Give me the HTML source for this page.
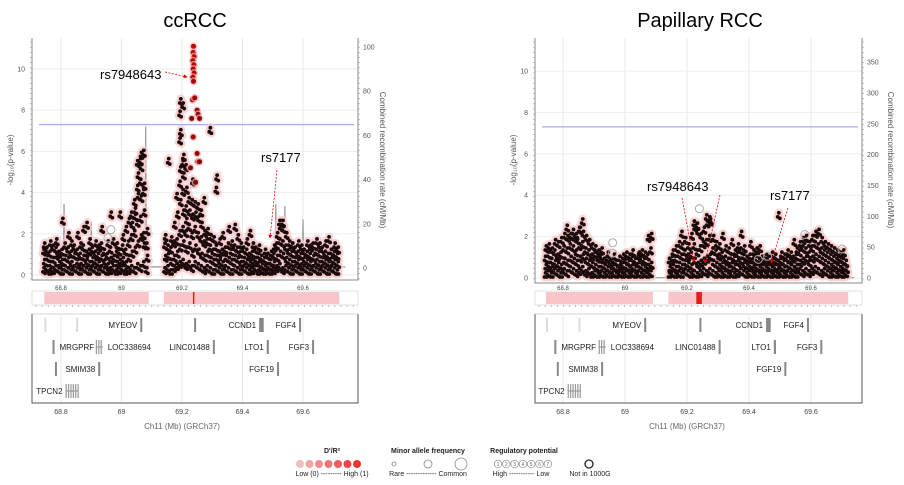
<!DOCTYPE html>
<html><head><meta charset="utf-8">
<style>
html,body{margin:0;padding:0;background:#fff;}
svg{display:block;font-family:"Liberation Sans",Arial,sans-serif;}
</style></head>
<body>
<svg id="chart" width="904" height="485" viewBox="0 0 904 485" xmlns="http://www.w3.org/2000/svg">
</svg>
<script>
// ---------- DATA ----------
const xTicks = [68.8, 69, 69.2, 69.4, 69.6];
const xTickLabels = ["68.8", "69", "69.2", "69.4", "69.6"];
const yTicks = [0, 2, 4, 6, 8, 10];
const ccRecTicks = [0, 20, 40, 60, 80, 100];
const prRecTicks = [0, 50, 100, 150, 200, 250, 300, 350];
const gwThreshold = 7.3;

const ccBinPos = [68.745,68.755,68.765,68.775,68.785,68.795,68.805,68.815,68.825,68.835,68.845,68.855,68.865,68.875,68.885,68.895,68.905,68.915,68.925,68.935,68.945,68.955,68.965,68.975,68.985,68.995,69.005,69.015,69.025,69.035,69.045,69.055,69.065,69.075,69.085,
69.145,69.155,69.165,69.175,69.185,69.195,69.205,69.215,69.225,69.235,69.245,69.255,69.265,69.275,69.285,69.295,69.305,69.315,69.325,69.335,69.345,69.355,69.365,69.375,69.385,69.395,69.405,69.415,69.425,69.435,69.445,69.455,69.465,69.475,69.485,69.495,69.505,69.515,69.525,69.535,69.545,69.555,69.565,69.575,69.585,69.595,69.605,69.615,69.625,69.635,69.645,69.655,69.665,69.675,69.685,69.695,69.705,69.715];
const ccBinVals = [[0.2,0.6,1.1,1.4],[0.3,0.8,1.2],[0.1,0.5,1.0,1.5],[0.2,0.7,1.3],[0.3,0.9,1.2,1.6],[0.2,0.5,1.0],[0.1,0.6,1.1,2.6],[0.3,0.8,1.4],[0.2,0.7,1.2,1.9],[0.1,0.5,1.0,1.5],[0.3,0.9,1.3],[0.2,0.6,1.1,1.9],[0.1,0.4,0.9,1.4],[0.3,0.8,1.3,2.2],[0.2,0.6,1.0,2.4],[0.1,0.5,1.1,1.6],[0.3,0.7,1.2],[0.2,0.6,1.0,1.5],[0.1,0.5,0.9,1.3],[0.3,0.8,1.4,2.2],[0.2,0.6,1.1],[0.1,0.4,0.9,1.5],[0.2,0.7,1.2,2.9],[0.3,0.8,1.6],[0.1,0.5,1.0,1.4],[0.2,0.6,1.1,2.9],[0.3,0.7,1.3,1.8],[0.1,0.5,1.1,2.2],[0.2,0.8,1.5,2.6],[0.3,1.0,1.8,2.4,2.9],[0.2,1.2,2.0,2.8,3.5,3.1],[0.4,1.5,2.5,3.8,4.2,4.8,5.4],[0.3,1.8,2.7,3.7,4.5,5.2,5.5,5.8],[0.5,1.4,1.9,3.0,4.0,4.3,5.9],[0.2,0.8,1.4,2.1],
[0.2,0.8,1.4,1.8],[0.3,0.9,1.3,5.5],[0.1,0.6,1.2,1.7],[0.3,0.8,1.5,2.4],[0.4,1.0,1.6,2.9,3.8],[0.5,1.3,2.0,3.5,4.4,5.1,6.5,6.9,7.8,8.4],[0.6,1.5,2.2,3.0,4.0,4.8,5.4,5.7,8.2],[0.4,1.2,2.0,2.6,3.2,4.1,5.2],[0.5,1.4,2.3,3.0,3.6],[0.3,1.0,1.9,2.8,3.5,4.5],[0.5,1.3,2.2,2.9,3.4],[0.4,1.1,1.9,2.7,3.3],[0.3,0.9,1.7,2.4,3.0],[0.2,0.8,1.5,2.0,3.6],[0.3,1.0,1.6,2.1],[0.2,0.7,1.3,1.8,7.0],[0.1,0.6,1.1,1.7],[0.3,0.8,1.3,4.7,4.1],[0.2,0.6,1.0,1.6],[0.1,0.5,1.1,1.9],[0.3,0.8,1.2],[0.2,0.7,1.4,2.2],[0.1,0.6,1.1,1.5],[0.3,0.8,1.3,2.3],[0.2,0.7,1.2,1.8],[0.1,0.5,1.0,1.4],[0.3,0.7,1.2],[0.2,0.6,1.1,1.6],[0.1,0.5,0.9,2.0],[0.2,0.6,1.0,1.4],[0.3,0.7,1.2],[0.1,0.5,0.9,1.3],[0.2,0.4,0.8],[0.1,0.3,0.7,1.1],[0.2,0.4,0.9],[0.1,0.3,0.6,1.0],[0.2,0.5,0.9,1.3],[0.3,0.8,1.4,1.9],[0.4,1.0,1.6,2.3,2.5],[0.2,0.9,1.5,2.2,2.5],[0.3,0.7,1.3,1.9],[0.2,0.6,1.1,1.5],[0.1,0.5,1.0,1.4],[0.3,0.7,1.2],[0.2,0.6,1.0,1.5],[0.1,0.4,0.9,1.3],[0.3,0.7,1.1],[0.2,0.6,1.0,1.5],[0.1,0.5,0.9,1.3],[0.3,0.8,1.4],[0.2,0.6,1.1,1.6],[0.1,0.5,1.0,1.4],[0.3,0.7,1.2],[0.2,0.6,1.0,1.5],[0.1,0.5,0.9,1.7],[0.3,0.7,1.1],[0.2,0.6,1.0,1.4],[0.1,0.5,0.9,1.2]];
const ccLeadPos = [69.238,69.237,69.240,69.236,69.239,69.237,69.240,69.236,69.238,69.235,69.242,69.250,69.253,69.258,69.232,69.237,69.250,69.252,69.258,69.228,69.245];
const ccLeadP   = [11.1,10.8,10.6,10.4,10.2,10.0,9.8,9.6,9.4,8.5,8.6,8.0,7.8,7.6,7.6,6.7,5.9,5.5,5.5,5.2,4.5];
const ccLeadLD  = [1,0.95,0.9,0.9,0.9,0.85,0.85,0.8,0.8,0.75,0.75,0.6,0.6,0.55,0.5,0.7,0.6,0.6,0.5,0.4,0.4];
const ccOpenPos = [68.955, 68.965];
const ccOpenP = [1.8, 2.2];
const ccRecPos = [68.81, 68.90, 69.08, 69.19, 69.51, 69.54, 69.60];
const ccRecRate = [29, 21, 64, 32, 29, 28, 22];

const prBinPos = ccBinPos;
const prBinVals = [[0.1,0.5,0.9,1.4],[0.2,0.6,1.1,1.5],[0.1,0.4,0.8,1.3],[0.3,0.7,1.2,1.7],[0.2,0.6,1.0,1.6],[0.1,0.5,1.1,1.8],[0.3,0.8,1.4,2.0],[0.2,0.7,1.3,1.9,2.4],[0.4,0.9,1.5,2.0],[0.3,0.8,1.4,1.9,2.2],[0.2,0.7,1.2,1.8,2.0],[0.3,0.9,1.5,2.3,2.3],[0.4,1.0,1.6,2.1,2.7],[0.2,0.8,1.3,1.9],[0.3,0.7,1.2,1.7],[0.1,0.6,1.0,1.5],[0.2,0.5,1.1,1.4],[0.1,0.4,0.9,1.2],[0.2,0.6,1.0,1.3],[0.1,0.5,0.8],[0.2,0.4,0.9,1.1],[0.1,0.3,0.7],[0.2,0.5,0.8,1.0],[0.1,0.4,0.7],[0.2,0.5,0.9],[0.1,0.3,0.6,1.0],[0.2,0.5,0.8,1.1],[0.1,0.4,0.7,1.0],[0.2,0.5,0.9,1.2],[0.1,0.4,0.8],[0.2,0.6,1.0,1.1],[0.1,0.5,0.9,1.2],[0.2,0.4,0.8,1.1],[0.1,0.5,1.0,1.9],[0.2,0.6,1.3,2.0],
[0.1,0.4,0.8],[0.2,0.5,0.9,1.2],[0.1,0.4,0.9,1.4],[0.2,0.6,1.1,1.6],[0.1,0.5,1.0,1.5,2.1],[0.3,0.7,1.2,1.8],[0.2,0.6,1.0,1.5],[0.1,0.5,1.1,2.0],[0.2,0.8,1.5,2.4,2.6],[0.1,0.6,1.2,2.2,2.5],[0.2,0.7,1.4,2.0],[0.3,0.8,1.6,2.3],[0.2,0.9,1.7,2.6,2.9],[0.3,1.0,1.9,2.7,2.8],[0.2,0.7,1.3,1.9],[0.1,0.6,1.2,1.6],[0.2,0.5,1.0,1.5],[0.1,0.6,1.1,2.0],[0.2,0.5,0.9,1.4],[0.1,0.4,0.8,1.3],[0.2,0.6,1.0,1.7],[0.1,0.5,0.9,1.2],[0.2,0.7,1.1,1.5],[0.3,0.8,1.3,2.1],[0.2,0.6,1.0,1.4],[0.1,0.5,0.9],[0.2,0.6,1.0,1.6],[0.1,0.4,0.8,1.2],[0.2,0.5,0.9,1.3],[0.1,0.4,0.8,1.4],[0.2,0.5,0.9],[0.1,0.4,0.8,1.0],[0.2,0.5,0.9],[0.1,0.4,0.7,1.1],[0.2,0.5,0.8,1.0],[0.1,0.3,0.7,3.0],[0.2,0.5,0.8,1.1],[0.1,0.4,0.7,1.0],[0.2,0.6,0.9,1.2],[0.1,0.5,0.8,1.1],[0.2,0.4,0.9,1.7],[0.1,0.5,1.0,1.3],[0.3,0.7,1.2,1.6],[0.2,0.8,1.4,1.8],[0.3,0.9,1.3,1.9],[0.2,0.7,1.1,1.6],[0.3,0.9,1.4,1.9],[0.4,1.0,1.6,2.1],[0.3,0.9,1.5,2.2],[0.2,0.8,1.3,1.8],[0.3,0.7,1.2,1.6],[0.2,0.6,1.1,1.5],[0.1,0.5,1.0,1.4],[0.2,0.6,0.9,1.3],[0.1,0.5,0.8,1.2],[0.2,0.4,0.9,1.1],[0.1,0.5,0.8,1.2],[0.2,0.4,0.7]];
const prOpenPos = [68.96, 68.96, 69.24, 69.58, 69.70, 69.43, 69.46];
const prOpenP = [1.7, 1.2, 3.35, 2.1, 1.4, 0.9, 1.05];
const prRecPos = [69.08, 69.19, 69.51];
const prRecRate = [6, 8, 7];

const geneNames = ["", "", "MYEOV", "", "CCND1", "FGF4", "MRGPRF", "LOC338694", "LINC01488", "LTO1", "FGF3", "", "SMIM38", "FGF19", "TPCN2"];
const geneStart = [68.745, 68.850, 69.062, 69.240, 69.455, 69.587, 68.772, 68.915, 69.302, 69.480, 69.630, 68.780, 68.923, 69.514, 68.815];
const geneEnd   = [68.747, 68.852, 69.066, 69.244, 69.470, 69.591, 68.778, 68.938, 69.307, 69.487, 69.635, 68.784, 68.928, 69.519, 68.857];
const geneRow   = [0,0,0,0,0,0,1,1,1,1,1,2,2,2,3];
const geneLabelSide = ["", "", "L", "", "L", "L", "R", "R", "L", "L", "L", "", "L", "L", "L"];

const ldLegendValues = [0.15, 0.3, 0.45, 0.6, 0.75, 0.9, 1.0];
const regLegendValues = ["1","2","3","4","5","6","7"];

// ---------- DRAW ----------
const NS = "http://www.w3.org/2000/svg";
const svg = document.getElementById("chart");
function mk(tag, attrs, parent, text) {
  const e = document.createElementNS(NS, tag);
  for (const k in attrs) e.setAttribute(k, attrs[k]);
  if (text !== undefined) e.textContent = text;
  (parent || svg).appendChild(e);
  return e;
}
function ldColor(ld) {
  const r = Math.round(70 + 130 * ld), g = Math.round(20 * (1 - ld)), b = Math.round(20 * (1 - ld));
  return "rgb(" + r + "," + g + "," + b + ")";
}

const panels = [
  {key: "cc", title: "ccRCC", titleX: 195, left: 32, right: 358, top: 38, y0: 275, ypu: 20.6, x88: 61, ppm: 302.5, rec0: 268, ppr: 2.21, recTicks: ccRecTicks,
   binPos: ccBinPos, binVals: ccBinVals, leadPos: ccLeadPos, leadP: ccLeadP, leadLD: ccLeadLD, openPos: ccOpenPos, openP: ccOpenP, recPos: ccRecPos, recRate: ccRecRate, recLabelX: 380, redBand: [69.236, 69.241]},
  {key: "pr", title: "Papillary RCC", titleX: 700, left: 535, right: 862, top: 38, y0: 278, ypu: 20.7, x88: 563, ppm: 310, rec0: 278, ppr: 0.617, recTicks: prRecTicks,
   binPos: prBinPos, binVals: prBinVals, leadPos: [], leadP: [], leadLD: [], openPos: prOpenPos, openP: prOpenP, recPos: prRecPos, recRate: prRecRate, recLabelX: 888, redBand: [69.230, 69.248]}
];

panels.forEach(function (P) {
  const g = mk("g", {});
  
  
  const xs = v => P.x88 + (v - 68.8) * P.ppm;
  const ys = v => P.y0 - v * P.ypu;
  const yr = v => P.rec0 - v * P.ppr;
  const bottom = P.y0 + 5;

  const t = mk("text", {x: P.titleX, y: 27, "text-anchor": "middle", "font-size": 20, fill: "#000"}, g, P.title);
  
  

  xTicks.forEach(v => mk("line", {x1: xs(v), x2: xs(v), y1: P.top, y2: bottom, stroke: "#e8e8e8", "stroke-width": 1}, g));
  yTicks.forEach(v => mk("line", {x1: P.left, x2: P.right, y1: ys(v), y2: ys(v), stroke: "#eeeeee", "stroke-width": 1}, g));

  const ax = mk("path", {d: "M" + P.left + "," + P.top + "V" + bottom + "H" + P.right + "V" + P.top, fill: "none", stroke: "#888", "stroke-width": 1}, g);
  
  
  for (let v = P.top + 4; v < bottom; v += 5.15) {
    mk("line", {x1: P.left - 2, x2: P.left, y1: v, y2: v, stroke: "#999", "stroke-width": 0.6}, g);
    mk("line", {x1: P.right, x2: P.right + 2, y1: v, y2: v, stroke: "#999", "stroke-width": 0.6}, g);
  }
  yTicks.forEach(v => {
    const tl = mk("text", {x: P.left - 7, y: ys(v) + 2.5, "text-anchor": "end", "font-size": 7, fill: "#555"}, g, String(v));
    
    
  });
  P.recTicks.forEach(v => {
    const tl = mk("text", {x: P.right + 5, y: yr(v) + 2.5, "font-size": 7, fill: "#555"}, g, String(v));
    
    
  });
  xTicks.forEach((v, i) => {
    const tl = mk("text", {x: xs(v), y: 290, "text-anchor": "middle", "font-size": 6, fill: "#444"}, g, xTickLabels[i]);
    
    
  });
  const yl = mk("text", {transform: "translate(" + (P.left - 19) + ",160) rotate(-90)", "text-anchor": "middle", "font-size": 8, fill: "#555"}, g, "-log\u2081\u2080(p-value)");
  
  
  const rl = mk("text", {transform: "translate(" + P.recLabelX + ",160) rotate(90)", "text-anchor": "middle", "font-size": 8, fill: "#555"}, g, "Combined recombination rate (cM/Mb)");
  
  

  const th = mk("line", {x1: P.left + 7, x2: P.right - 4, y1: ys(gwThreshold), y2: ys(gwThreshold), stroke: "#aab0ee", "stroke-width": 1.2}, g);
  
  

  let d = "M" + xs(68.74) + "," + yr(0.5);
  P.recPos.forEach((p, i) => {
    d += " L" + xs(p - 0.002) + "," + yr(0.5) + " L" + xs(p) + "," + yr(P.recRate[i]) + " L" + xs(p + 0.002) + "," + yr(0.5);
  });
  d += " L" + xs(69.74) + "," + yr(0.5);
  const rec = mk("path", {d: d, fill: "none", stroke: "#999", "stroke-width": 1.2}, g);
  
  

  const pts = mk("g", {}, g);
  
  
  const offs = [[-0.0035, -0.05], [0.0, 0.15], [0.0035, -0.12]];
  P.binPos.forEach((bp, i) => {
    P.binVals[i].forEach((v, j) => {
      offs.forEach(o => {
        const vv = Math.max(0.05, v + o[1]);
        mk("circle", {cx: xs(bp + o[0] + (j % 2 ? 0.0012 : -0.0012)), cy: ys(vv), r: 4.4, fill: "#f7caca", opacity: 0.75}, pts);
      });
    });
  });
  P.binPos.forEach((bp, i) => {
    P.binVals[i].forEach((v, j) => {
      offs.forEach(o => {
        const vv = Math.max(0.05, v + o[1]);
        const c = mk("circle", {cx: xs(bp + o[0] + (j % 2 ? 0.0012 : -0.0012)), cy: ys(vv), r: 1.9, fill: "#1a0a0a"}, pts);
        
        
      });
    });
  });
  P.leadPos.forEach((p, i) => {
    mk("circle", {cx: xs(p), cy: ys(P.leadP[i]), r: 4, fill: "#f3b0b0", opacity: 0.7}, pts);
    const c = mk("circle", {cx: xs(p), cy: ys(P.leadP[i]), r: 2.5, fill: ldColor(P.leadLD[i])}, pts);
    
    
  });
  P.openPos.forEach((p, i) => {
    const c = mk("circle", {cx: xs(p), cy: ys(P.openP[i]), r: 4, fill: "none", stroke: "#aaa", "stroke-width": 1}, pts);
    
    
  });

  const sy = 292, sh = 12;
  mk("rect", {x: P.left, y: sy - 1, width: P.right - P.left, height: sh + 2, fill: "#fff", stroke: "#ccc", "stroke-width": 0.6}, g);
  const strip = mk("g", {}, g);
  
  
  mk("rect", {x: xs(68.745), y: sy, width: xs(69.09) - xs(68.745), height: sh, fill: "#f8c6c6"}, strip);
  mk("rect", {x: xs(69.14), y: sy, width: xs(69.72) - xs(69.14), height: sh, fill: "#f8c6c6"}, strip);
  mk("rect", {x: xs(P.redBand[0]), y: sy, width: xs(P.redBand[1]) - xs(P.redBand[0]), height: sh, fill: "#e02020"}, strip);
  for (let v = P.left + 4; v < P.right; v += 6.1) mk("line", {x1: v, x2: v, y1: sy + sh + 1, y2: sy + sh + 3, stroke: "#999", "stroke-width": 0.6}, g);

  const gt = 314, gb = 403;
  const gp = mk("g", {}, g);
  
  
  xTicks.forEach(v => mk("line", {x1: xs(v), x2: xs(v), y1: gt, y2: gb, stroke: "#e8e8e8"}, gp));
  mk("path", {d: "M" + P.left + "," + gt + "V" + gb + "H" + P.right + "V" + gt, fill: "none", stroke: "#555", "stroke-width": 1}, gp);
  mk("line", {x1: P.left, x2: P.right, y1: gt, y2: gt, stroke: "#aaa", "stroke-width": 0.6}, gp);
  const rowY = [325, 347, 369, 391];
  geneNames.forEach((n, i) => {
    const y = rowY[geneRow[i]];
    const x1 = xs(geneStart[i]), x2 = Math.max(xs(geneEnd[i]), x1 + 2);
    const light = (n === "" && geneRow[i] === 0 && i < 2);
    const wide = (x2 - x1) > 6;
    if (wide) mk("line", {x1: x1, x2: x2, y1: y, y2: y, stroke: "#666", "stroke-width": 0.8}, gp);
    const ge = mk("rect", {x: x1, y: y - 7, width: wide ? 0 : x2 - x1, height: 14, fill: light ? "#ddd" : "#888"}, gp);
    
    
    if (wide) {
      for (let xx = x1; xx <= x2; xx += 2.4) mk("rect", {x: xx, y: y - 7, width: 1.2, height: 14, fill: "#999"}, gp);
    }
    if (n) {
      const side = geneLabelSide[i];
      const lt = mk("text", {x: side === "L" ? x1 - 3 : x2 + 5, y: y + 3, "text-anchor": side === "L" ? "end" : "start", "font-size": 8, fill: "#222"}, gp, n);
      
      
    }
  });
  xTicks.forEach((v, i) => {
    const tl = mk("text", {x: xs(v), y: 414, "text-anchor": "middle", "font-size": 7, fill: "#444"}, g, xTickLabels[i]);
    
    
  });
  const xt = mk("text", {x: xs(69.2), y: 429, "text-anchor": "middle", "font-size": 8, fill: "#666"}, g, "Ch11 (Mb) (GRCh37)");
  
  
});

svg.insertAdjacentHTML("beforeend", `
<defs><marker id="ah" viewBox="0 0 6 6" refX="5" refY="3" markerWidth="5" markerHeight="5" orient="auto"><path d="M0,0L6,3L0,6z" fill="#e00"/></marker></defs>
<g font-size="13" fill="#000">
<text x="100" y="79">rs7948643</text>
<line x1="165" y1="72" x2="187" y2="77" stroke="#e00" stroke-width="0.8" stroke-dasharray="2,1.5" marker-end="url(#ah)"/>
<text x="261" y="162">rs7177</text>
<line x1="277" y1="170" x2="270" y2="238" stroke="#e00" stroke-width="0.8" stroke-dasharray="2,1.5" marker-end="url(#ah)"/>
<text x="647" y="191">rs7948643</text>
<line x1="682" y1="198" x2="694" y2="262" stroke="#e00" stroke-width="0.8" stroke-dasharray="2,1.5" marker-end="url(#ah)"/>
<line x1="720" y1="195" x2="705" y2="263" stroke="#e00" stroke-width="0.8" stroke-dasharray="2,1.5" marker-end="url(#ah)"/>
<text x="770" y="200">rs7177</text>
<line x1="788" y1="208" x2="771" y2="263" stroke="#e00" stroke-width="0.8" stroke-dasharray="2,1.5" marker-end="url(#ah)"/>
</g>`);

const lg = mk("g", {"font-size": 7, fill: "#222"});


mk("text", {x: 332, y: 453, "text-anchor": "middle", "font-weight": "bold"}, lg, "D'/R²");
ldLegendValues.forEach((v, i) => {
  const c = mk("circle", {cx: 300 + i * 9.5, cy: 464, r: 4, fill: "rgb(240," + Math.round(215 - 165 * v) + "," + Math.round(215 - 165 * v) + ")"}, lg);
  
  
});
mk("text", {x: 332, y: 476, "text-anchor": "middle"}, lg, "Low (0) --------- High (1)");
mk("text", {x: 428, y: 453, "text-anchor": "middle", "font-weight": "bold"}, lg, "Minor allele frequency");
[[394, 2], [428, 4], [461, 6]].forEach(a => {
  const c = mk("circle", {cx: a[0], cy: 464, r: a[1], fill: "none", stroke: "#888", "stroke-width": 0.8}, lg);
  
  
});
mk("text", {x: 428, y: 476, "text-anchor": "middle"}, lg, "Rare ------------- Common");
mk("text", {x: 524, y: 453, "text-anchor": "middle", "font-weight": "bold"}, lg, "Regulatory potential");
regLegendValues.forEach((v, i) => {
  const c = mk("circle", {cx: 498 + i * 8.3, cy: 464, r: 3.8, fill: "#fff", stroke: "#888", "stroke-width": 0.7}, lg);
  
  
  mk("text", {x: 498 + i * 8.3, y: 466, "text-anchor": "middle", "font-size": 5, fill: "#666"}, lg, v);
});
mk("text", {x: 521, y: 476, "text-anchor": "middle"}, lg, "High ----------- Low");
const nc = mk("circle", {cx: 589, cy: 464, r: 4, fill: "none", stroke: "#222", "stroke-width": 1.3}, lg);


mk("text", {x: 590, y: 476, "text-anchor": "middle"}, lg, "Not in 1000G");
</script>
</body></html>
